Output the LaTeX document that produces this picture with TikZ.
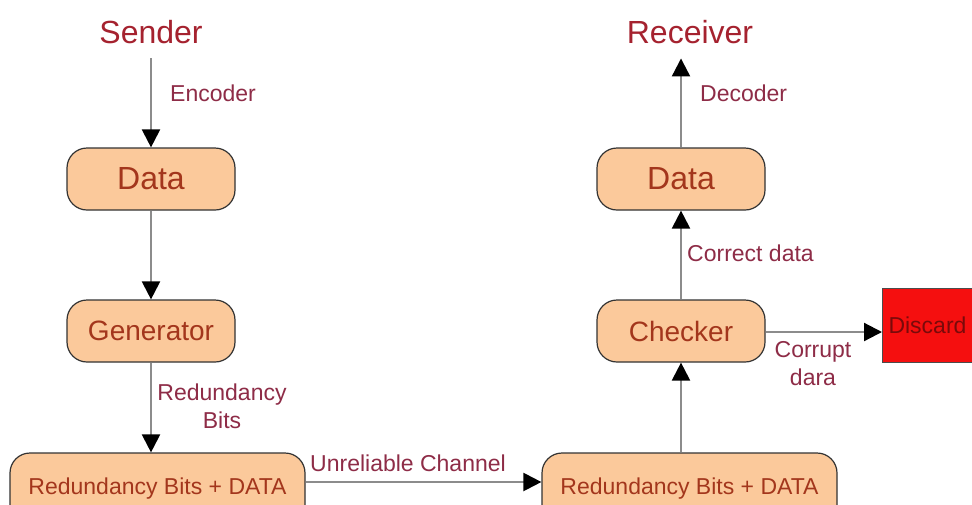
\documentclass[tikz,border=0pt]{standalone}
\usepackage{fontspec}
\setmainfont{Liberation Sans}
\usetikzlibrary{arrows.meta}
\definecolor{boxfill}{HTML}{FBC99B}
\definecolor{boxtext}{HTML}{A3361C}
\definecolor{titletext}{HTML}{A5222F}
\definecolor{labeltext}{HTML}{8E2C47}
\definecolor{linegray}{HTML}{8C8C8C}
\definecolor{discred}{HTML}{F50F0F}
\definecolor{disctext}{HTML}{7A0A0A}
\begin{document}
\begin{tikzpicture}[x=1pt,y=-1pt,
  box/.style={draw=black!80, line width=1.2pt, fill=boxfill, rounded corners=20pt,
    text=boxtext, inner sep=0pt},
  title/.style={text=titletext, font=\fontsize{32}{38}\selectfont, inner xsep=2pt, inner ysep=14.5pt},
  lbl/.style={text=labeltext, font=\fontsize{23}{28}\selectfont, inner sep=0pt},
  arr/.style={draw=linegray, line width=2.2pt,
    -{Triangle[length=18pt,width=18pt,color=black,fill=black]}},
  bigf/.style={font=\fontsize{32}{38}\selectfont},
  midf/.style={font=\fontsize{28}{34}\selectfont},
  smf/.style={font=\fontsize{23}{28}\selectfont}]
\clip (0,0) rectangle (972,504);
\fill[white] (0,0) rectangle (972,504);

% titles
\node[title] (snd) at (151,32) {Sender};
\node[title] (rcv) at (690,32) {Receiver};

% boxes
\node[box, bigf, minimum width=168pt, minimum height=62pt] (d1) at (151,179) {Data};
\node[box, midf, minimum width=168pt, minimum height=62pt] (gen) at (151,331) {Generator};
\node[box, smf, minimum width=295pt, minimum height=72pt] (rb1) at (157.5,489) {Redundancy Bits + DATA};
\node[box, smf, minimum width=295pt, minimum height=72pt] (rb2) at (689.5,489) {Redundancy Bits + DATA};
\node[box, midf, minimum width=168pt, minimum height=62pt] (chk) at (681,331) {Checker};
\node[box, bigf, minimum width=168pt, minimum height=62pt] (d2) at (681,179) {Data};
\node[draw=black!70, line width=1pt, fill=discred, text=disctext, smf, anchor=west,
  text width=106pt, align=left, inner xsep=6pt, minimum height=74pt] (disc) at (882,325) {Discard};

% connectors
\draw[arr] (snd.south) -- (d1.north);
\draw[arr] (d1.south) -- (gen.north);
\draw[arr] (gen.south) -- (rb1.north -| gen.south);
\draw[arr] (rb1.east |- 0,482) -- (rb2.west |- 0,482);
\draw[arr] (rb2.north -| chk.south) -- (chk.south);
\draw[arr] (chk.north) -- (d2.south);
\draw[arr] (d2.north) -- (d2.north |- rcv.south);
\draw[arr] (chk.east |- 0,332) -- (disc.west |- 0,332);

% labels
\node[lbl, anchor=west] (enc) at (170,93) {Encoder};
\node[lbl, anchor=west] (dec) at (700,93) {Decoder};
\node[lbl, anchor=west] (cor) at (687,253) {Correct data};
\node[lbl, align=center] (rbl) at (222,406) {Redundancy\\Bits};
\node[lbl, align=center] (crp) at (813,364) {Corrupt\\dara};
\node[lbl, anchor=west] (unr) at (310,463) {Unreliable Channel};
\end{tikzpicture}
\end{document}
